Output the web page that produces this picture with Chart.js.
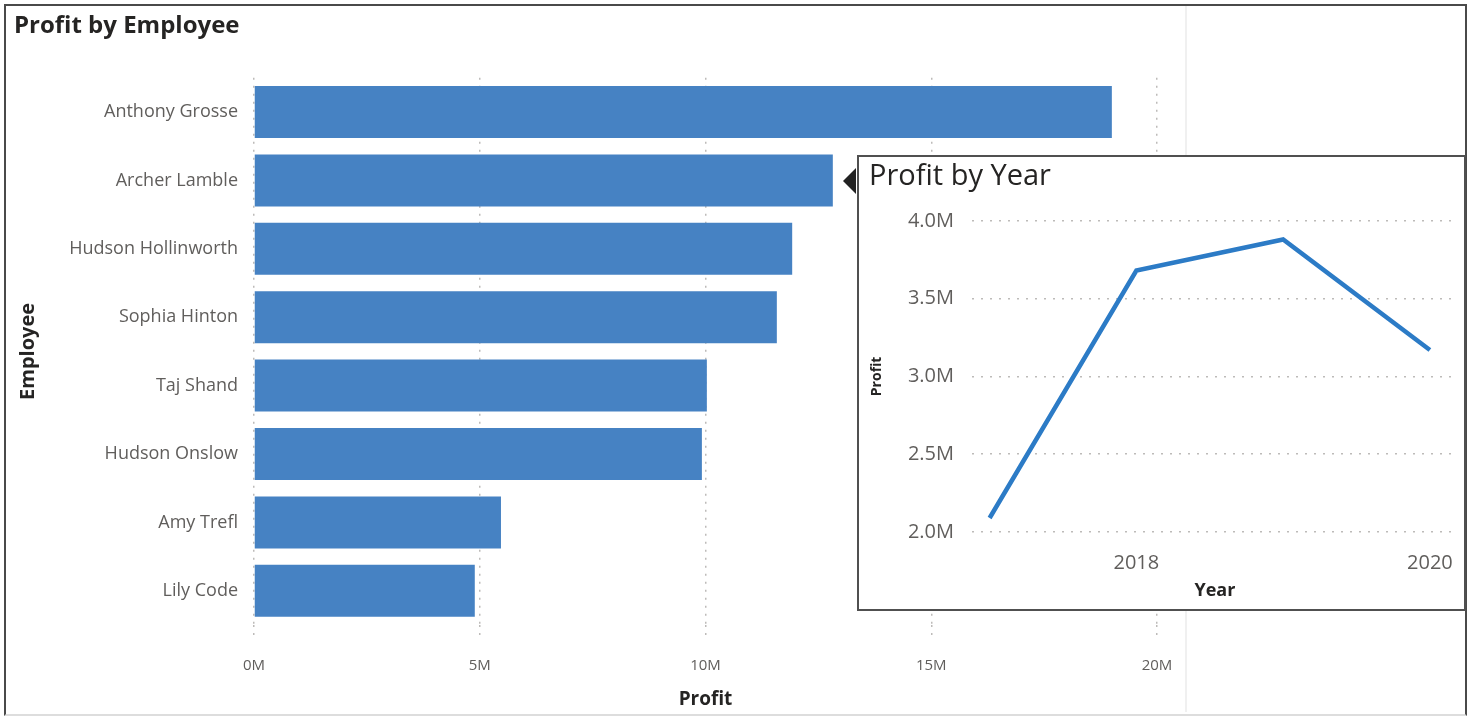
<!DOCTYPE html>
<html>
<head>
<meta charset="utf-8">
<script src="https://cdn.jsdelivr.net/npm/chart.js@4.4.1/dist/chart.umd.min.js"></script>
<style>
  html, body { margin: 0; padding: 0; background: #fff; }
  #page { position: relative; width: 1468px; height: 717px; overflow: hidden; }
  #mainChart { position: absolute; left: 0; top: 0; }
  .frame { position: absolute; left: 4px; top: 4px; width: 1459px; height: 708px; border: 2px solid #4a4a4a; border-bottom-color: #ddd; pointer-events: none; }
  .divider { position: absolute; left: 1185px; top: 6px; width: 2px; height: 706px; background: #f0f0f0; }
  #tip { position: absolute; left: 857px; top: 155px; width: 605px; height: 452px; border: 2px solid #505050; background: #fff; }
  #tip canvas { position: absolute; left: 0; top: 0; }
  .arrow { position: absolute; left: 843px; top: 168px; width: 0; height: 0; border-top: 13px solid transparent; border-bottom: 13px solid transparent; border-right: 13px solid #222; }
</style>
</head>
<body>
<div id="page">
  <div class="divider"></div>
  <canvas id="mainChart" width="1468" height="717"></canvas>
  <div class="frame"></div>
  <div class="arrow"></div>
  <div id="tip"><canvas id="yearChart" width="605" height="452"></canvas></div>
</div>
<script>
// profit by employee, in millions
const employees = ['Anthony Grosse', 'Archer Lamble', 'Hudson Hollinworth', 'Sophia Hinton', 'Taj Shand', 'Hudson Onslow', 'Amy Trefl', 'Lily Code'];
const employeeProfit = [19.0, 12.82, 11.92, 11.58, 10.03, 9.92, 5.47, 4.89];
const profitTicks = [0, 5, 10, 15, 20];

// profit by year, in millions
const years = [2017, 2018, 2019, 2020];
const yearProfit = [2.09, 3.68, 3.88, 3.17];
const yearTicks = [2018, 2020];

const font = "'Open Sans', 'DejaVu Sans', sans-serif";
const gridGrey = '#bdbbb9';

const main = document.getElementById('mainChart').getContext('2d');
const yearCtx = document.getElementById('yearChart').getContext('2d');

new Chart(main, {
    type: 'bar',
    data: {
        labels: employees,
        datasets: [{
            label: 'Profit',
            data: employeeProfit,
            backgroundColor: '#4682c3',
            barPercentage: 0.76,
            categoryPercentage: 1
        }]
    },
    options: {
        indexAxis: 'y',
        responsive: false,
        animation: false,
        layout: { padding: { left: 14, right: 311, top: 4, bottom: 2 } },
        plugins: {
            legend: { display: false },
            tooltip: { enabled: false },
            title: {
                display: true,
                text: 'Profit by Employee',
                align: 'start',
                color: '#252423',
                font: { family: font, size: 24, weight: 'bold' },
                padding: { top: 8, bottom: 37 }
            }
        },
        scales: {
            x: {
                min: 0,
                max: 20,
                afterFit: (s) => { s.height = 90; },
                afterBuildTicks: (s) => { s.ticks = profitTicks.map(v => ({ value: v })); },
                grid: {
                    color: gridGrey,
                    lineWidth: 1.5,
                    tickBorderDash: [2, 6],
                    tickColor: gridGrey,
                    tickWidth: 1.5,
                    tickLength: 16,
                    drawTicks: true
                },
                border: { display: false, dash: [2, 6] },
                ticks: {
                    padding: 16,
                    color: '#605e5c',
                    font: { family: font, size: 15 },
                    callback: (v) => v + 'M'
                },
                title: {
                    display: true,
                    text: 'Profit',
                    color: '#252423',
                    font: { family: font, size: 19, weight: 'bold' },
                    padding: { top: 0, bottom: 4 }
                }
            },
            y: {
                afterFit: (s) => { s.width = 240; },
                grid: { display: false },
                border: { display: false },
                ticks: {
                    padding: 8,
                    color: '#605e5c',
                    font: { family: font, size: 18 }
                },
                title: {
                    display: true,
                    text: 'Employee',
                    color: '#252423',
                    font: { family: font, size: 20, weight: 'bold' },
                    padding: { top: 2, bottom: 0 }
                }
            }
        }
    }
});

new Chart(yearCtx, {
    type: 'line',
    data: {
        datasets: [{
            label: 'Profit',
            data: years.map((y, i) => ({ x: y, y: yearProfit[i] })),
            borderColor: '#2c7bc6',
            borderWidth: 4.5,
            pointRadius: 0,
            tension: 0
        }]
    },
    options: {
        responsive: false,
        animation: false,
        layout: { padding: { left: 10, right: 4, top: 2, bottom: 4 } },
        plugins: {
            legend: { display: false },
            tooltip: { enabled: false },
            title: {
                display: true,
                text: 'Profit by Year',
                align: 'start',
                color: '#252423',
                font: { family: font, size: 29, weight: '500' },
                padding: { top: 0, bottom: 27 }
            }
        },
        scales: {
            x: {
                type: 'linear',
                min: 2016.88,
                max: 2020.19,
                afterFit: (s) => { s.height = 73; },
                afterBuildTicks: (s) => { s.ticks = yearTicks.map(v => ({ value: v })); },
                grid: { display: false },
                border: { display: false },
                ticks: {
                    padding: 11,
                    color: '#605e5c',
                    font: { family: font, size: 20 },
                    callback: (v) => String(v)
                },
                title: {
                    display: true,
                    text: 'Year',
                    color: '#252423',
                    font: { family: font, size: 18, weight: 'bold' },
                    padding: { top: 0, bottom: 3 }
                }
            },
            y: {
                min: 2,
                max: 4,
                afterFit: (s) => { s.width = 103; },
                grid: {
                    color: gridGrey,
                    lineWidth: 1.5,
                    drawTicks: false
                },
                border: { display: false, dash: [2, 7] },
                ticks: {
                    stepSize: 0.5,
                    padding: 18,
                    color: '#605e5c',
                    font: { family: font, size: 20 },
                    callback: (v) => v.toFixed(1) + 'M'
                },
                title: {
                    display: true,
                    text: 'Profit',
                    color: '#252423',
                    font: { family: font, size: 14, weight: 'bold' },
                    padding: { top: 0, bottom: 0 }
                }
            }
        }
    }
});
</script>
</body>
</html>
